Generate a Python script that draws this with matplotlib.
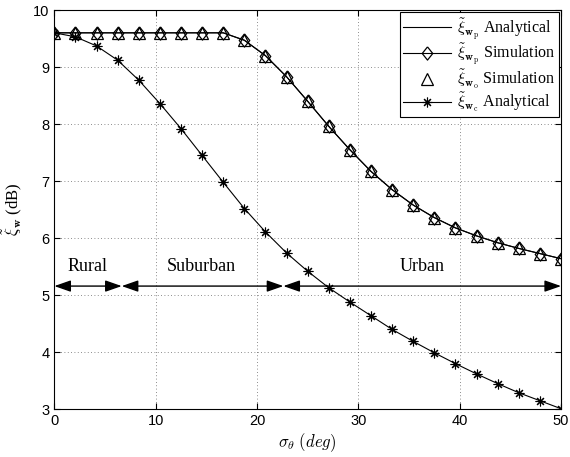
import numpy as np
import matplotlib.pyplot as plt

plt.rcParams['mathtext.fontset'] = 'cm'
plt.rcParams['font.family'] = 'Liberation Sans'

# angular spread sigma_theta (deg), 25 evaluation points
sigma = np.linspace(0, 50, 25)

xi_wp = [9.6, 9.6, 9.6, 9.6, 9.6, 9.6, 9.6, 9.6, 9.6, 9.47, 9.2, 8.83, 8.4,
         7.96, 7.55, 7.17, 6.85, 6.58, 6.36, 6.18, 6.04, 5.92, 5.82, 5.73, 5.64]
xi_wo = xi_wp
xi_wc = [9.6, 9.53, 9.37, 9.12, 8.77, 8.36, 7.92, 7.45, 6.98, 6.52, 6.11, 5.74,
         5.42, 5.13, 4.88, 4.64, 4.40, 4.19, 3.99, 3.80, 3.62, 3.45, 3.29, 3.15, 3.01]

# environment ranges along sigma_theta
regions = ['Rural', 'Suburban', 'Urban']
region_edges = [0, 6.65, 22.6, 50]
region_text_x = [3.3, 14.5, 36.3]

# slightly squat diamond, like the matlab one
diamond = [(0, 1), (0.8, 0), (0, -1), (-0.8, 0), (0, 1)]

fig = plt.figure(figsize=(5.7, 4.57), dpi=100)
ax = fig.add_axes([0.0953, 0.1044, 0.889, 0.8737])

ax.plot(sigma, xi_wp, '-', color='k', lw=0.8,
        label=r'$\tilde{\xi}_{\mathbf{w}_\mathrm{p}}$ Analytical')
ax.plot(sigma, xi_wp, '-', color='k', lw=0.8, marker=diamond, markersize=9.5,
        markerfacecolor='none', markeredgewidth=0.9,
        label=r'$\tilde{\xi}_{\mathbf{w}_\mathrm{p}}$ Simulation')
ax.plot(sigma, xi_wo, ls='none', color='k', marker='^', markersize=8,
        markerfacecolor='none', markeredgewidth=0.9,
        label=r'$\tilde{\xi}_{\mathbf{w}_\mathrm{o}}$ Simulation')
ax.plot(sigma, xi_wc, '-', color='k', lw=0.8, marker=(8, 2, 0), markersize=7,
        markeredgewidth=0.8,
        label=r'$\tilde{\xi}_{\mathbf{w}_\mathrm{c}}$ Analytical')

# double-headed arrows for each region
y_arrow = 5.16
for name, x0, x1, xt in zip(regions, region_edges[:-1], region_edges[1:], region_text_x):
    ax.annotate('', xy=(x0, y_arrow), xytext=(x1, y_arrow),
                arrowprops=dict(arrowstyle='<|-|>,head_length=1.0,head_width=0.35',
                                color='k', lw=1.0, shrinkA=0, shrinkB=0))
    ax.text(xt, 5.5, name, ha='center', va='center', fontsize=13,
            family='Liberation Serif')

ax.set_xlim(0, 50)
ax.set_ylim(3, 10)
ax.set_xticks([0, 10, 20, 30, 40, 50])
ax.set_yticks(range(3, 11))
ax.tick_params(direction='in', top=True, right=True, labelsize=10.5, length=4)
ax.grid(True, ls=(0, (1, 3)), color='k', lw=0.6, alpha=0.6)

ax.set_xlabel(r'$\sigma_\theta\ (deg)$', fontsize=12, labelpad=2)
ax.set_ylabel(r'$\tilde{\xi}_{\mathbf{w}}$ (dB)', fontsize=12, family='Liberation Serif',
              labelpad=6)

leg = ax.legend(loc='upper right', handlelength=3.0, fancybox=False,
                framealpha=1, edgecolor='k', borderaxespad=0.15,
                labelspacing=0.0, handletextpad=0.4, borderpad=0.2,
                prop={'family': 'Liberation Serif', 'size': 11.5})
leg.get_frame().set_linewidth(0.8)

plt.savefig('out.png', dpi=100)
